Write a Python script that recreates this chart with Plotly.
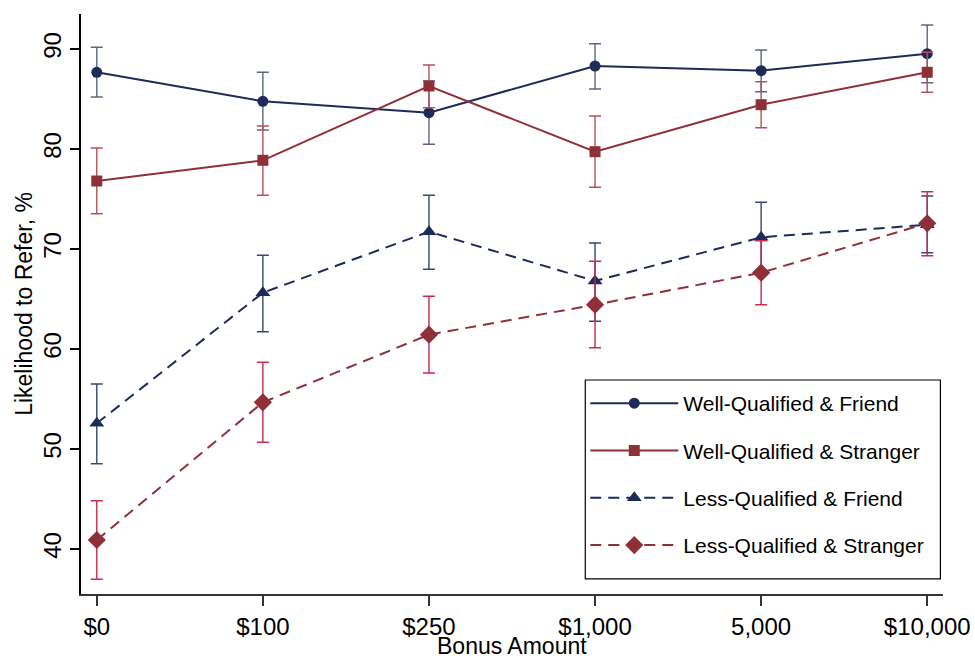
import plotly.graph_objects as go

categories = ["$0", "$100", "$250", "$1,000", "5,000", "$10,000"]

wf_mean = [87.67, 84.77, 83.63, 88.30, 87.83, 89.53]
wf_low = [85.20, 81.90, 80.47, 86.00, 85.73, 86.63]
wf_high = [90.17, 87.67, 86.80, 90.53, 89.90, 92.40]

ws_mean = [76.80, 78.87, 86.30, 79.73, 84.43, 87.67]
ws_low = [73.53, 75.37, 84.13, 76.17, 82.13, 85.67]
ws_high = [80.10, 82.30, 88.40, 83.30, 86.73, 89.67]

lf_mean = [52.57, 65.63, 71.73, 66.80, 71.17, 72.43]
lf_low = [48.53, 61.73, 67.97, 62.77, 67.70, 69.63]
lf_high = [56.50, 69.37, 75.37, 70.60, 74.67, 75.30]

ls_mean = [40.90, 54.67, 61.43, 64.43, 67.63, 72.57]
ls_low = [36.97, 50.67, 57.60, 60.13, 64.43, 69.33]
ls_high = [44.83, 58.67, 65.27, 68.77, 70.83, 75.73]

series_names = ["Well-Qualified & Friend", "Well-Qualified & Stranger",
                "Less-Qualified & Friend", "Less-Qualified & Stranger"]

x_title = "Bonus Amount"
y_title = "Likelihood to Refer, %"

NAVY = "#1c2b58"
MAROON = "#8f3039"

specs = [
    (series_names[0], wf_mean, wf_low, wf_high, NAVY, "#5c6684", "circle", "solid", 11),
    (series_names[1], ws_mean, ws_low, ws_high, MAROON, "#b8505c", "square", "solid", 11),
    (series_names[2], lf_mean, lf_low, lf_high, NAVY, "#3a4570", "triangle-up", "11px,7px", 13),
    (series_names[3], ls_mean, ls_low, ls_high, MAROON, "#cc2a4e", "diamond", "11px,7px", 14),
]

fig = go.Figure()
for i, (name, m, lo, hi, col, ecol, sym, dash, msize) in enumerate(specs):
    fig.add_trace(go.Scatter(
        x=categories, y=m, name=name, mode="lines+markers",
        line=dict(color=col, width=2, dash=dash),
        marker=dict(color=col, symbol=sym, size=msize),
        error_y=dict(type="data", symmetric=False,
                     array=[h - v for h, v in zip(hi, m)],
                     arrayminus=[v - l for v, l in zip(m, lo)],
                     color=ecol, thickness=1.4, width=6),
        legendgroup=f"g{i}",
    ))

FONT = "Liberation Sans, Arial, sans-serif"

fig.update_layout(
    template="none",
    width=975, height=660,
    margin=dict(l=81, r=32, t=14, b=66, pad=0),
    plot_bgcolor="white", paper_bgcolor="white",
    font=dict(family=FONT, color="black", size=24),
    showlegend=True,
    legend=dict(
        x=0.585, y=0.3638, xanchor="left", yanchor="top",
        bgcolor="rgba(0,0,0,0)", borderwidth=0,
        font=dict(family=FONT, size=21, color="black"),
        traceorder="grouped", tracegroupgap=17, itemwidth=88,
    ),
    shapes=[dict(
        type="rect", xref="paper", yref="paper",
        x0=0.585, x1=0.997, y0=0.026, y1=0.369,
        line=dict(color="black", width=1.2), fillcolor="white", layer="above",
    )],
    xaxis=dict(
        type="category", range=[-0.095, 5.095], automargin=False,
        showline=True, linecolor="#333333", linewidth=1.5,
        ticks="outside", ticklen=10, tickcolor="#333333", tickwidth=1.5,
        showgrid=False, zeroline=False,
        tickfont=dict(size=24, family=FONT, color="black"),
    ),
    yaxis=dict(
        range=[35.5, 93.5], automargin=False,
        tickvals=[40, 50, 60, 70, 80, 90],
        showline=True, linecolor="black", linewidth=1.5,
        ticks="outside", ticklen=9, tickcolor="black", tickwidth=1.5,
        showgrid=False, zeroline=False,
        tickangle=-90,
        tickfont=dict(size=24, family=FONT, color="black"),
        title=dict(text=y_title, font=dict(size=23, family=FONT, color="black"), standoff=0),
    ),
    annotations=[dict(
        text=x_title, xref="paper", yref="paper", x=0.5, y=0,
        xanchor="center", yanchor="middle", yshift=-52, showarrow=False,
        font=dict(size=23, family=FONT, color="black"),
    )],
)

fig.write_html("out.html", config={"displayModeBar": False},
               post_script="document.body.style.margin='0px';")
